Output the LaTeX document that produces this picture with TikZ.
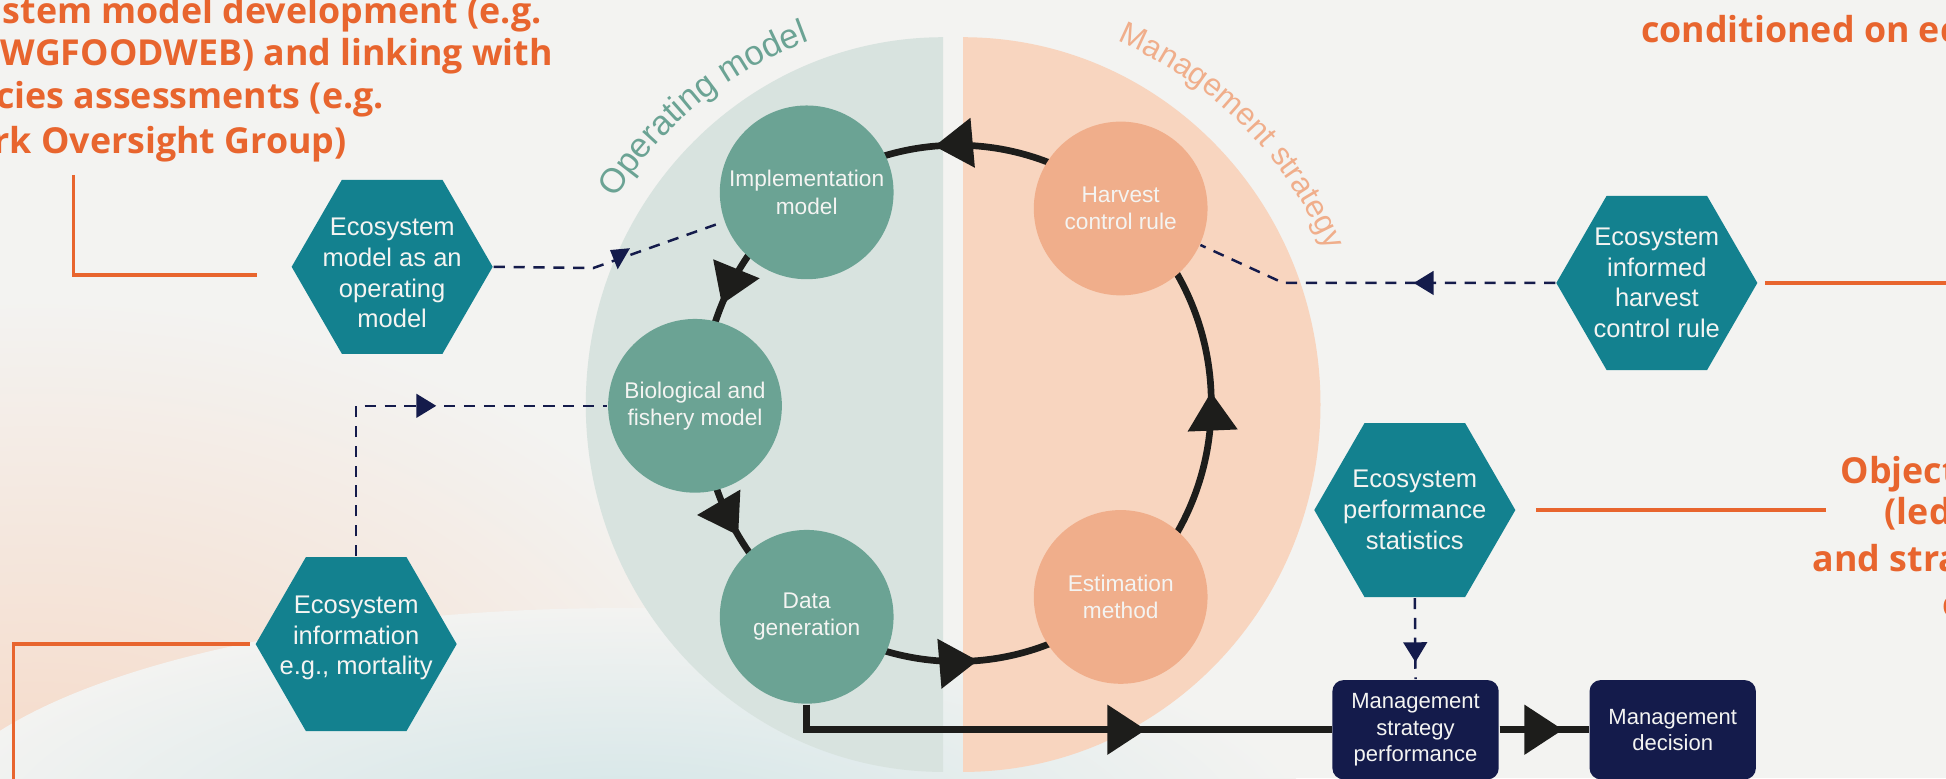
\documentclass[tikz,border=0pt]{standalone}
\usepackage{fontspec}
\setmainfont{Liberation Sans}
\newfontfamily\calloutfont{Open Sans}
\usetikzlibrary{shapes.geometric,arrows.meta,decorations.markings,decorations.text}

\definecolor{bgcol}{HTML}{F3F3F1}
\definecolor{omhalf}{HTML}{D8E3DF}
\definecolor{mshalf}{HTML}{F8D5BF}
\definecolor{omgreen}{HTML}{6BA394}
\definecolor{mspeach}{HTML}{F0AE8B}
\definecolor{ecoteal}{HTML}{13818F}
\definecolor{navy}{HTML}{141B4B}
\definecolor{loopblack}{HTML}{1D1D1B}
\definecolor{orangetxt}{HTML}{E8652E}
\definecolor{nodetext}{HTML}{F4F4F2}
\definecolor{hazepeach}{HTML}{F6D6C2}
\definecolor{hazeteal}{HTML}{D2E5E7}

\tikzset{
  bigtri/.tip={Triangle[length=3.1mm,width=3.9mm]},
  smalltri/.tip={Triangle[length=1.6mm,width=1.9mm]},
  hexa/.style={regular polygon,regular polygon sides=6,minimum size=16.2mm,inner sep=0pt,fill=ecoteal},
  hexlbl/.style={text=nodetext,align=center,inner sep=0pt,font=\fontsize{5.85}{7.05}\selectfont},
  omcirc/.style={circle,minimum size=14mm,inner sep=0pt,fill=omgreen,text=nodetext,align=center,font=\fontsize{5.2}{6.25}\selectfont},
  mscirc/.style={omcirc,fill=mspeach},
  navybox/.style={rectangle,rounded corners=0.9mm,fill=navy,text=nodetext,align=center,minimum width=13.4mm,minimum height=8mm,inner sep=0pt,font=\fontsize{5.05}{5.97}\selectfont},
  callout/.style={inner sep=0pt,text=orangetxt,font=\calloutfont\bfseries\fontsize{8.2}{10}\selectfont},
  calloutline/.style={draw=orangetxt,line width=0.26mm},
  loopline/.style={color=loopblack,line width=0.54mm},
  dashlink/.style={color=navy,line width=0.2mm,dash pattern=on 0.9mm off 0.7mm},
  looparrows/.style={postaction={decorate},decoration={markings,
      mark=at position 0.237 with {\arrowreversed{bigtri}},
      mark=at position 0.414 with {\arrowreversed{bigtri}},
      mark=at position 0.563 with {\arrowreversed{bigtri}},
      mark=at position 0.736 with {\arrowreversed{bigtri}},
      mark=at position 0.993 with {\arrowreversed{bigtri}}}},
  midbig/.style={postaction={decorate},decoration={markings,mark=at position #1 with {\arrow{bigtri}}}},
  midsmall/.style={postaction={decorate},decoration={markings,mark=at position #1 with {\arrow{smalltri}}}}
}

\begin{document}
\begin{tikzpicture}[x=0.1mm,y=-0.1mm]
  \useasboundingbox (0,0) rectangle (1568,627);
  \clip (0,0) rectangle (1568,627);
  \fill[bgcol] (0,0) rectangle (1568,627);
  % soft glow low on the left
  \shade[inner color=hazepeach,outer color=bgcol] (30,700) ellipse [x radius=640,y radius=460];
  \shade[inner color=hazeteal,outer color=bgcol] (500,670) ellipse [x radius=560,y radius=180];

  % operating model / management strategy halves
  \coordinate (omc) at (760,326);
  \coordinate (msc) at (776,326);
  \fill[omhalf] (760,30) arc[start angle=-90,end angle=-270,x radius=288,y radius=296] -- cycle;
  \fill[mshalf] (776,30) arc[start angle=-90,end angle=90,x radius=288,y radius=296] -- cycle;
  \path[decorate,decoration={text along path,text align=center,text color=omgreen,
      text={|\fontsize{7.9}{9}\selectfont|Operating model}}]
    (omc) ++(-153:312) arc[start angle=-153,end angle=-105,radius=312];
  \path[decorate,decoration={text along path,text align=center,text color=mspeach,
      text={|\fontsize{7.2}{8}\selectfont|Management strategy}}]
    (msc) ++(-70:318) arc[start angle=-70,end angle=-20,radius=318];

  % the simulation loop
  \coordinate (loopc) at (771,325);
  \draw[loopline,looparrows] (loopc) ellipse [x radius=205,y radius=208];

  \node[omcirc] (imp) at (650,155) {Implementation\\model};
  \node[omcirc] (bio) at (560,327) {Biological and\\fishery model};
  \node[omcirc] (dat) at (650,497) {Data\\generation};
  \node[mscirc] (hcr) at (903,168) {Harvest\\control rule};
  \node[mscirc] (est) at (903,481) {Estimation\\method};

  % ecosystem inputs
  \node[hexa,label={[hexlbl,yshift=-0.5mm]center:{Ecosystem\\model as an\\operating\\model}}] (eco) at (316,215) {};
  \node[hexa,label={[hexlbl,yshift=0.5mm]center:{Ecosystem\\information\\e.g., mortality}}] (info) at (287,519) {};
  \node[hexa,label={[hexlbl]center:{Ecosystem\\informed\\harvest\\control rule}}] (ihcr) at (1335,228) {};
  \node[hexa,label={[hexlbl]center:{Ecosystem\\performance\\statistics}}] (eps) at (1140,411) {};

  \node[navybox] (msp) at (1140.6,588) {Management\\strategy\\performance};
  \node[navybox] (mdec) at (1347.8,588) {Management\\decision};

  % dashed links
  \coordinate (b1) at (478,216);
  \coordinate (b3) at (1034,228);
  \draw[dashlink] (eco.east) -- (b1) -- (imp);
  \fill[navy] (491.5,201.5) -- (507.6,200) -- (497.7,217) -- cycle;
  \draw[dashlink,midsmall=0.574] (info.north) |- (bio.west);
  \draw[dashlink,midsmall=0.39] (ihcr.west) -- (b3) -- (hcr);
  \draw[dashlink,midsmall=0.79] (eps.south) -- (msp.north);

  % performance path
  \draw[loopline,midbig=0.6625] (dat.south) |- (msp.west);
  \draw[loopline,midbig=0.711] (msp) -- (mdec);

  % orange callouts
  \node[callout,anchor=base east] (om1) at (437,18.8) {stem model development (e.g.};
  \node[callout,anchor=base east] (om2) at (446,52.4) {WGFOODWEB) and linking with};
  \node[callout,anchor=base east] (om3) at (310,87.3) {cies assessments (e.g.};
  \node[callout,anchor=base east] (om4) at (280,123.6) {rk Oversight Group)};
  \node[callout,anchor=base west] (hc1) at (1321.8,34.4) {conditioned on ec};
  \node[callout,anchor=base west] (ob1) at (1482.4,389.5) {Object};
  \node[callout,anchor=base west] (ob2) at (1518,423) {(led};
  \node[callout,anchor=base west] (ob3) at (1460,460.7) {and stra};
  \node[callout,anchor=base west] (ob4) at (1564.7,497) {c};

  \coordinate (omtop) at (59,141);
  \coordinate (omend) at (206.8,221.6);
  \coordinate (infobot) at (10.8,640);
  \coordinate (hcout) at (1580,228);
  \coordinate (obend) at (1471,411);
  \draw[calloutline] (omtop) |- (omend);
  \draw[calloutline] ([xshift=-0.4mm]info.west) -| (infobot);
  \draw[calloutline] ([xshift=0.56mm]ihcr.east) -- (hcout);
  \draw[calloutline] ([xshift=1.6mm]eps.east) -- (obend);
\end{tikzpicture}
\end{document}
